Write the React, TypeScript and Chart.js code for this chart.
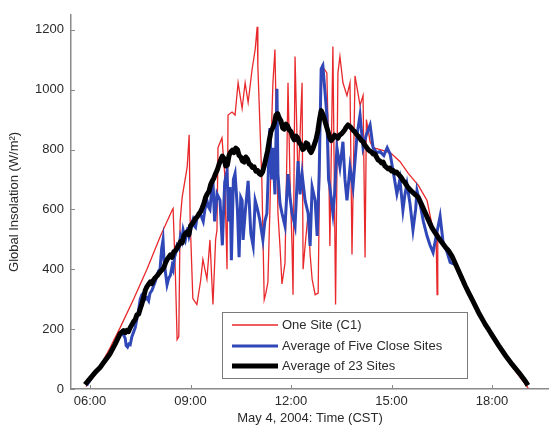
import React, { useEffect, useRef } from 'react';
import { Chart, registerables } from 'chart.js';

Chart.register(...registerables);

const xTicks = [6, 9, 12, 15, 18];
const yTicks = [0, 200, 400, 600, 800, 1000, 1200];
const seriesLabels = ['One Site (C1)', 'Average of Five Close Sites', 'Average of 23 Sites'];
const xTitle = 'May 4, 2004: Time (CST)';
const yTitle = 'Global Insolation (W/m²)';

const redTimes = [5.88, 6.1, 6.3, 6.6, 6.9, 7.3, 7.7, 8.1, 8.45, 8.48, 8.55, 8.6, 8.65, 8.69, 8.75, 8.9, 8.96, 8.99, 9.07, 9.19, 9.3, 9.37, 9.49, 9.58, 9.67, 9.75, 9.79, 9.82, 9.94, 10.02, 10.09, 10.12, 10.24, 10.33, 10.42, 10.54, 10.63, 10.72, 10.84, 10.93, 10.99, 11.01, 11.13, 11.2, 11.25, 11.31, 11.37, 11.43, 11.46, 11.52, 11.56, 11.61, 11.67, 11.73, 11.82, 11.88, 11.91, 11.97, 12.03, 12.06, 12.12, 12.21, 12.27, 12.33, 12.36, 12.42, 12.51, 12.57, 12.63, 12.72, 12.81, 12.87, 12.93, 13.07, 13.12, 13.16, 13.25, 13.33, 13.4, 13.46, 13.55, 13.67, 13.76, 13.82, 13.91, 14.06, 14.15, 14.21, 14.25, 14.36, 14.45, 14.66, 14.96, 15.25, 15.5, 15.8, 16.06, 16.24, 16.33, 16.36, 16.38, 16.6, 16.8, 17.0, 17.4, 17.8, 18.2, 18.6, 19.0, 19.08];
const redValues = [8, 40, 75, 138, 205, 300, 400, 510, 597, 603, 380, 165, 175, 560, 640, 741, 849, 564, 302, 282, 360, 433, 367, 498, 282, 500, 531, 806, 839, 720, 400, 915, 925, 915, 1023, 937, 1023, 957, 1069, 1134, 1210, 1079, 695, 298, 320, 357, 600, 915, 1023, 1134, 900, 587, 478, 351, 420, 806, 1023, 700, 478, 315, 1111, 695, 850, 1023, 400, 478, 587, 450, 367, 315, 320, 882, 1079, 1056, 800, 478, 1144, 282, 1056, 1111, 1023, 980, 1023, 449, 1046, 948, 980, 439, 900, 826, 806, 800, 790, 760, 720, 680, 630, 531, 520, 315, 520, 470, 440, 395, 300, 210, 140, 75, 15, 3];

const blueTimes = [5.9, 6.1, 6.3, 6.5, 6.7, 6.85, 6.95, 7.0, 7.05, 7.08, 7.12, 7.16, 7.2, 7.25, 7.3, 7.35, 7.4, 7.45, 7.5, 7.55, 7.6, 7.65, 7.7, 7.75, 7.79, 7.85, 7.9, 7.95, 8.0, 8.05, 8.09, 8.14, 8.18, 8.21, 8.24, 8.3, 8.35, 8.4, 8.45, 8.48, 8.52, 8.55, 8.6, 8.65, 8.7, 8.74, 8.78, 8.85, 8.9, 8.92, 8.96, 8.99, 9.03, 9.07, 9.11, 9.15, 9.19, 9.22, 9.28, 9.33, 9.38, 9.43, 9.49, 9.53, 9.58, 9.63, 9.67, 9.72, 9.79, 9.88, 9.95, 10.02, 10.09, 10.14, 10.18, 10.22, 10.28, 10.33, 10.4, 10.45, 10.5, 10.54, 10.57, 10.64, 10.72, 10.8, 10.87, 10.93, 11.0, 11.07, 11.16, 11.22, 11.28, 11.37, 11.42, 11.46, 11.52, 11.58, 11.61, 11.67, 11.73, 11.82, 11.91, 11.97, 12.03, 12.12, 12.21, 12.27, 12.33, 12.42, 12.51, 12.57, 12.63, 12.72, 12.78, 12.84, 12.9, 12.95, 13.07, 13.12, 13.16, 13.25, 13.3, 13.37, 13.46, 13.55, 13.61, 13.67, 13.76, 13.85, 13.97, 14.06, 14.15, 14.25, 14.36, 14.45, 14.55, 14.66, 14.77, 14.87, 14.96, 15.06, 15.16, 15.25, 15.34, 15.4, 15.46, 15.55, 15.64, 15.72, 15.76, 15.85, 15.95, 16.06, 16.15, 16.24, 16.35, 16.45, 16.54, 16.65, 16.75, 16.9, 17.0, 17.1, 17.2, 17.3, 17.4, 17.6, 17.8, 18.0, 18.2, 18.4, 18.6, 18.8, 19.0, 19.05];
const blueValues = [12, 45, 70, 100, 135, 175, 190, 180, 170, 145, 140, 150, 148, 175, 190, 205, 235, 262, 300, 315, 320, 300, 305, 295, 320, 330, 345, 360, 380, 395, 400, 470, 498, 430, 400, 348, 370, 380, 410, 400, 440, 450, 479, 470, 510, 495, 531, 500, 530, 540, 510, 521, 550, 564, 545, 540, 570, 575, 587, 575, 560, 600, 630, 610, 600, 660, 695, 560, 652, 630, 480, 690, 728, 560, 675, 430, 700, 720, 600, 440, 640, 630, 498, 600, 695, 520, 478, 630, 600, 564, 498, 560, 587, 872, 700, 806, 650, 1003, 718, 620, 587, 544, 718, 640, 587, 544, 761, 650, 718, 630, 587, 478, 675, 630, 511, 718, 1069, 1080, 915, 700, 675, 587, 650, 806, 741, 826, 700, 630, 741, 675, 849, 915, 806, 850, 882, 806, 790, 793, 780, 806, 784, 720, 652, 700, 597, 650, 685, 620, 531, 600, 662, 620, 560, 511, 480, 456, 520, 577, 489, 460, 423, 415, 395, 372, 345, 322, 300, 255, 215, 180, 145, 112, 82, 55, 25, 12];

const blackTimes = [5.85, 6.0, 6.15, 6.3, 6.45, 6.6, 6.75, 6.9, 6.95, 7.0, 7.05, 7.1, 7.15, 7.2, 7.25, 7.3, 7.35, 7.4, 7.45, 7.5, 7.55, 7.6, 7.65, 7.7, 7.75, 7.8, 7.85, 7.9, 7.95, 8.0, 8.05, 8.1, 8.15, 8.2, 8.25, 8.3, 8.35, 8.4, 8.45, 8.5, 8.55, 8.6, 8.65, 8.7, 8.75, 8.8, 8.85, 8.9, 8.95, 9.0, 9.05, 9.1, 9.15, 9.2, 9.25, 9.3, 9.35, 9.4, 9.45, 9.5, 9.55, 9.6, 9.65, 9.7, 9.75, 9.8, 9.85, 9.9, 9.95, 10.0, 10.05, 10.1, 10.15, 10.2, 10.25, 10.3, 10.35, 10.4, 10.45, 10.5, 10.55, 10.6, 10.65, 10.7, 10.75, 10.8, 10.85, 10.9, 10.95, 11.0, 11.05, 11.1, 11.15, 11.2, 11.25, 11.3, 11.35, 11.4, 11.45, 11.5, 11.55, 11.6, 11.65, 11.7, 11.75, 11.8, 11.85, 11.9, 11.95, 12.0, 12.05, 12.1, 12.15, 12.2, 12.25, 12.3, 12.35, 12.4, 12.45, 12.5, 12.55, 12.6, 12.65, 12.7, 12.75, 12.8, 12.85, 12.9, 12.95, 13.0, 13.05, 13.1, 13.15, 13.2, 13.25, 13.3, 13.35, 13.4, 13.45, 13.5, 13.55, 13.6, 13.65, 13.7, 13.75, 13.8, 13.85, 13.9, 13.95, 14.0, 14.05, 14.1, 14.15, 14.2, 14.25, 14.3, 14.35, 14.4, 14.45, 14.5, 14.55, 14.6, 14.65, 14.7, 14.75, 14.8, 14.85, 14.9, 14.95, 15.0, 15.05, 15.1, 15.15, 15.2, 15.25, 15.3, 15.35, 15.4, 15.45, 15.5, 15.6, 15.7, 15.8, 15.9, 16.0, 16.1, 16.2, 16.3, 16.4, 16.5, 16.6, 16.7, 16.8, 16.9, 17.0, 17.1, 17.2, 17.3, 17.4, 17.5, 17.6, 17.7, 17.8, 17.9, 18.0, 18.2, 18.4, 18.6, 18.8, 19.0, 19.07];
const blackValues = [15, 35, 55, 72, 95, 118, 150, 185, 190, 195, 188, 196, 192, 205, 215, 225, 232, 248, 250, 268, 285, 305, 330, 342, 350, 358, 352, 365, 372, 378, 385, 392, 398, 405, 420, 432, 440, 448, 440, 458, 462, 472, 480, 492, 488, 510, 520, 525, 515, 545, 552, 560, 570, 575, 585, 592, 605, 620, 640, 652, 660, 682, 695, 705, 720, 732, 750, 765, 778, 770, 745, 748, 780, 792, 798, 790, 805, 800, 780, 775, 762, 758, 775, 768, 752, 748, 740, 742, 728, 730, 720, 716, 725, 745, 770, 795, 830, 860, 872, 885, 915, 920, 905, 895, 872, 868, 885, 878, 865, 860, 842, 832, 845, 838, 822, 815, 800, 805, 822, 818, 798, 790, 802, 818, 835, 862, 900, 930, 918, 900, 880, 862, 840, 830, 838, 848, 842, 838, 848, 852, 858, 865, 875, 882, 878, 872, 865, 860, 852, 845, 838, 830, 826, 815, 808, 800, 795, 792, 785, 786, 775, 765, 762, 755, 758, 745, 740, 735, 738, 728, 730, 722, 725, 718, 712, 705, 695, 690, 680, 672, 660, 650, 640, 615, 590, 565, 540, 522, 505, 490, 475, 462, 445, 420, 395, 370, 345, 322, 300, 278, 255, 235, 215, 198, 180, 145, 112, 82, 55, 25, 12];

const FONT = '"Liberation Sans", Arial, sans-serif';
const AXIS_COLOR = '#8a8a8a';
const TEXT_COLOR = '#2a2a2a';

const toPoints = (ts: number[], vs: number[]) => ts.map((t, i) => ({ x: t, y: vs[i] }));
const fmtTime = (h: number) => (h < 10 ? '0' : '') + h + ':00';

const innerTicksPlugin = {
  id: 'innerTicks',
  afterDraw(chart: any) {
    const { ctx, chartArea, scales } = chart;
    ctx.save();
    ctx.strokeStyle = AXIS_COLOR;
    ctx.lineWidth = 1;
    xTicks.forEach((t) => {
      const px = Math.round(scales.x.getPixelForValue(t)) + 0.5;
      ctx.beginPath();
      ctx.moveTo(px, chartArea.bottom);
      ctx.lineTo(px, chartArea.bottom - 4);
      ctx.stroke();
    });
    yTicks.forEach((v) => {
      const py = Math.round(scales.y.getPixelForValue(v)) + 0.5;
      ctx.beginPath();
      ctx.moveTo(chartArea.left, py);
      ctx.lineTo(chartArea.left + 4, py);
      ctx.stroke();
    });
    ctx.restore();
  },
};

const boxLegendPlugin = {
  id: 'boxLegend',
  afterDatasetsDraw(chart: any) {
    const { ctx } = chart;
    const x0 = 222, y0 = 312, w = 245, h = 66;
    ctx.save();
    ctx.fillStyle = '#ffffff';
    ctx.fillRect(x0, y0, w, h);
    ctx.strokeStyle = '#7a7a7a';
    ctx.lineWidth = 1;
    ctx.strokeRect(x0 + 0.5, y0 + 0.5, w, h);
    const rows = [325, 346, 366];
    chart.data.datasets.forEach((ds: any, i: number) => {
      const y = rows[i];
      ctx.strokeStyle = ds.borderColor;
      ctx.lineWidth = ds.borderWidth;
      ctx.beginPath();
      ctx.moveTo(232, y);
      ctx.lineTo(278, y);
      ctx.stroke();
      ctx.fillStyle = TEXT_COLOR;
      ctx.font = '13px ' + FONT;
      ctx.textBaseline = 'middle';
      ctx.textAlign = 'left';
      ctx.fillText(ds.label, 282, y);
    });
    ctx.restore();
  },
};

export default function App() {
  const canvasRef = useRef<HTMLCanvasElement | null>(null);

  useEffect(() => {
    if (!canvasRef.current) return;
    const chart = new Chart(canvasRef.current, {
      type: 'line',
      data: {
        datasets: [
          {
            label: seriesLabels[0],
            data: toPoints(redTimes, redValues),
            borderColor: '#e8282b',
            borderWidth: 1.3,
            pointRadius: 0,
            tension: 0,
            order: 3,
          },
          {
            label: seriesLabels[1],
            data: toPoints(blueTimes, blueValues),
            borderColor: '#3047b8',
            borderWidth: 3,
            pointRadius: 0,
            tension: 0,
            order: 2,
          },
          {
            label: seriesLabels[2],
            data: toPoints(blackTimes, blackValues),
            borderColor: '#000000',
            borderWidth: 5,
            pointRadius: 0,
            tension: 0,
            borderJoinStyle: 'round',
            order: 1,
          },
        ],
      },
      options: {
        responsive: false,
        animation: false,
        devicePixelRatio: 1,
        layout: { padding: { top: 8, left: 0, right: 0, bottom: 0 } },
        plugins: { legend: { display: false }, tooltip: { enabled: false } },
        scales: {
          x: {
            type: 'linear',
            min: 5.433,
            max: 19.7,
            afterBuildTicks: (scale: any) => {
              scale.ticks = xTicks.map((v) => ({ value: v }));
            },
            afterFit: (scale: any) => {
              scale.height = 38;
            },
            grid: { display: false, drawTicks: false },
            border: { display: true, color: AXIS_COLOR, width: 1.5 },
            ticks: {
              padding: 5,
              color: TEXT_COLOR,
              font: { size: 13, family: FONT },
              maxRotation: 0,
              autoSkip: false,
              callback: (v: any) => fmtTime(Number(v)),
            },
            title: {
              display: true,
              text: xTitle,
              color: TEXT_COLOR,
              font: { size: 13, family: FONT },
              padding: { top: 0, bottom: 1 },
            },
          },
          y: {
            type: 'linear',
            min: 0,
            max: 1250,
            afterBuildTicks: (scale: any) => {
              scale.ticks = yTicks.map((v) => ({ value: v }));
            },
            afterFit: (scale: any) => {
              scale.width = 71;
            },
            grid: { display: false, drawTicks: false },
            border: { display: true, color: AXIS_COLOR, width: 1.5 },
            ticks: {
              padding: 7,
              color: TEXT_COLOR,
              font: { size: 13, family: FONT },
              autoSkip: false,
              callback: (v: any) => String(v),
            },
            title: {
              display: true,
              text: yTitle,
              color: TEXT_COLOR,
              font: { size: 13, family: FONT },
              padding: { top: 7, bottom: 0 },
            },
          },
        },
      },
      plugins: [innerTicksPlugin, boxLegendPlugin],
    } as any);
    return () => chart.destroy();
  }, []);

  return (
    <div style={{ position: 'fixed', left: 0, top: 0, width: 549, height: 427, background: '#fff' }}>
      <canvas ref={canvasRef} width={549} height={427} style={{ display: 'block' }} />
    </div>
  );
}
